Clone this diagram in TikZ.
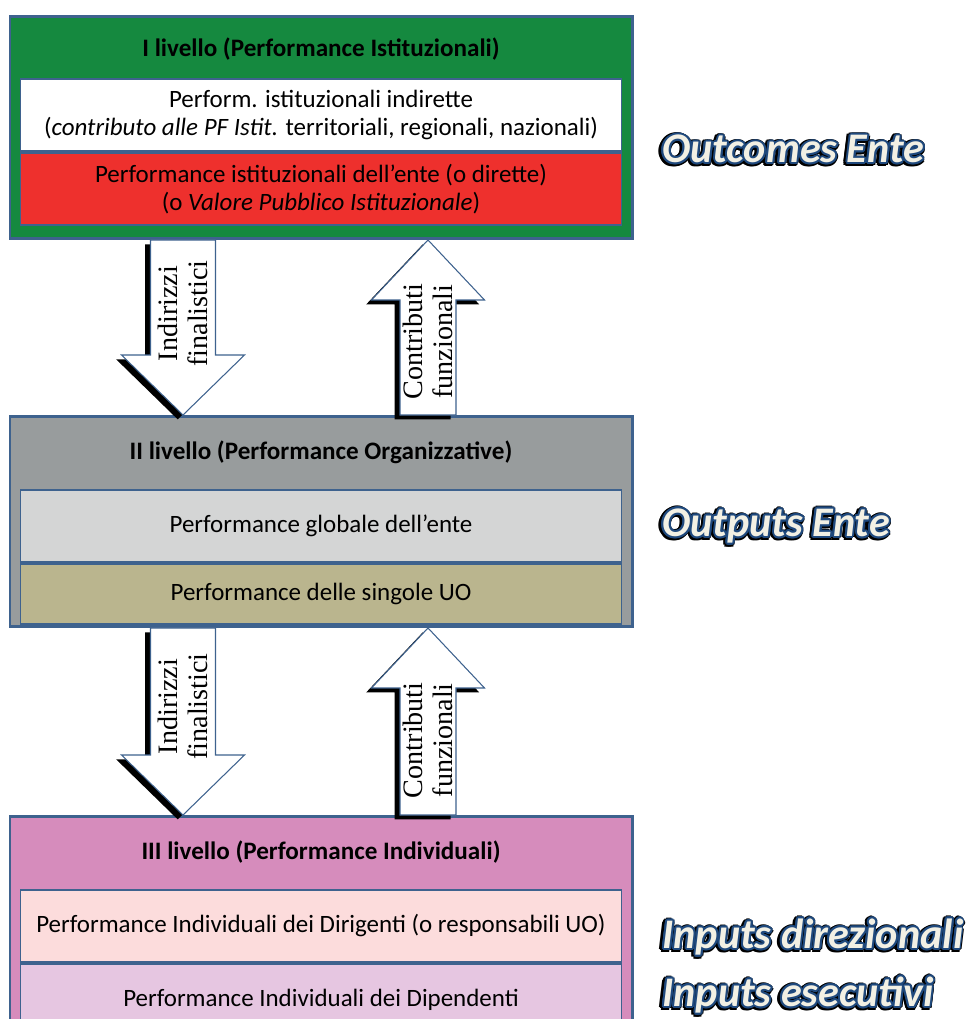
\documentclass[tikz,border=0pt]{standalone}
\usepackage{fontspec}
\setmainfont{Carlito}
\newfontfamily\arrowfont{Liberation Serif}
\usepackage[copies]{contour}
\contournumber{12}
\usetikzlibrary{calc,positioning}

\definecolor{lvgreen}{RGB}{21,137,63}
\definecolor{bordblue}{RGB}{62,98,142}
\definecolor{ptred}{RGB}{238,48,45}
\definecolor{lvgrey}{RGB}{152,156,157}
\definecolor{ltgrey}{RGB}{212,213,213}
\definecolor{uotan}{RGB}{186,181,142}
\definecolor{lvpink}{RGB}{214,140,188}
\definecolor{ltpink}{RGB}{252,220,220}
\definecolor{lavender}{RGB}{230,198,225}
\definecolor{sideblue}{RGB}{31,73,125}
\definecolor{cream}{RGB}{242,240,228}

\tikzset{
  level/.style={draw=bordblue, line width=1.7pt, minimum width=12.44cm, anchor=north, inner sep=0pt},
  lvtitle/.style={font=\bfseries\fontsize{14.3}{16}\selectfont, inner sep=0pt},
  inbox/.style={draw=bordblue, line width=1.1pt, minimum width=12.02cm, minimum height=1.44cm,
    anchor=north, align=center, inner sep=0pt, font=\fontsize{14.2}{16}\selectfont},
  arrbody/.style={draw=bordblue, line width=0.6pt, fill=white},
  arrtext/.style={rotate=90, align=center, inner sep=0pt, font=\arrowfont\fontsize{16}{17}\selectfont},
  side/.style={anchor=west, inner sep=0pt, font=\bfseries\itshape\fontsize{24}{26}\selectfont},
}

% outlined side labels
\newcommand{\sideshadow}[1]{\contourlength{1.9pt}\contour{black}{#1}}
\newcommand{\sideface}[1]{\contourlength{1.1pt}\contour{sideblue}{#1}}

% block arrow: from, to, shaft half width, head half width
\newcommand{\blockarr}[4]{%
  \fill[black, transform canvas={xshift=-3pt,yshift=-2.5pt}]
    let \p1=(#1), \p2=(#2), \n1={2*(\y2>\y1)-1} in
    ({\x1-#3},\y1) -- ({\x1-#3},{\y2-\n1*1.2cm}) -- ({\x1-#4},{\y2-\n1*1.2cm}) -- (\x1,\y2)
    -- ({\x1+#4},{\y2-\n1*1.2cm}) -- ({\x1+#3},{\y2-\n1*1.2cm}) -- ({\x1+#3},\y1) -- cycle;
  \draw[arrbody]
    let \p1=(#1), \p2=(#2), \n1={2*(\y2>\y1)-1} in
    ({\x1-#3},\y1) -- ({\x1-#3},{\y2-\n1*1.2cm}) -- ({\x1-#4},{\y2-\n1*1.2cm}) -- (\x1,\y2)
    -- ({\x1+#4},{\y2-\n1*1.2cm}) -- ({\x1+#3},{\y2-\n1*1.2cm}) -- ({\x1+#3},\y1) -- cycle;
}

\begin{document}
\begin{tikzpicture}
    \useasboundingbox (0,0) rectangle (19.42,-20.38);
    \clip (0,0) rectangle (19.42,-20.38);

    % Level I
    \node [level, fill=lvgreen, minimum height=4.44cm] (lev1) at (6.42,-0.3) {};
    \node [lvtitle, below=0.45cm of lev1.north] (tit1) {I livello (Performance Istituzionali)};
    \node [inbox, fill=white, below=1.26cm of lev1.north] (indir)
        {Perform. istituzionali indirette\\(\textit{contributo alle PF Istit.} territoriali, regionali, nazionali)};
    \node [inbox, fill=ptred, below=0pt of indir] (dir)
        {Performance istituzionali dell’ente (o dirette)\\(o \textit{Valore Pubblico Istituzionale})};

    % Level II
    \node [level, fill=lvgrey, minimum height=4.2cm] (lev2) at (6.42,-8.3) {};
    \node [lvtitle, below=0.5cm of lev2.north] (tit2) {II livello (Performance Organizzative)};
    \node [inbox, fill=ltgrey, below=1.48cm of lev2.north] (glob) {Performance globale dell’ente};
    \node [inbox, fill=uotan, minimum height=1.2cm, below=0pt of glob] (uo) {Performance delle singole UO};

    % Level III
    \node [level, fill=lvpink, minimum height=4.6cm] (lev3) at (6.42,-16.3) {};
    \node [lvtitle, below=0.5cm of lev3.north] (tit3) {III livello (Performance Individuali)};
    \node [inbox, fill=ltpink, below=1.48cm of lev3.north] (dirig)
        {Performance Individuali dei Dirigenti (o responsabili UO)};
    \node [inbox, fill=lavender, below=0pt of dirig] (dipen) {Performance Individuali dei Dipendenti};

    % Arrow axes
    \coordinate (xd) at (3.66,0);
    \coordinate (xu) at (8.56,0);
    \coordinate (d1a) at (xd |- lev1.south);
    \coordinate (d1b) at (xd |- lev2.north);
    \coordinate (u1a) at (xu |- lev2.north);
    \coordinate (u1b) at (xu |- lev1.south);
    \coordinate (d2a) at (xd |- lev2.south);
    \coordinate (d2b) at (xd |- lev3.north);
    \coordinate (u2a) at (xu |- lev3.north);
    \coordinate (u2b) at (xu |- lev2.south);

    % Block arrows
    \blockarr{d1a}{d1b}{0.65cm}{1.23cm}
    \blockarr{u1a}{u1b}{0.56cm}{1.13cm}
    \blockarr{d2a}{d2b}{0.65cm}{1.23cm}
    \blockarr{u2a}{u2b}{0.56cm}{1.13cm}
    \node [arrtext] (ind1) at ($(d1a)!0.42!(d1b)$) {Indirizzi\\finalistici};
    \node [arrtext] (con1) at ($(u1a)!0.42!(u1b)$) {Contributi\\funzionali};
    \node [arrtext] (ind2) at ($(d2a)!0.42!(d2b)$) {Indirizzi\\finalistici};
    \node [arrtext] (con2) at ($(u2a)!0.40!(u2b)$) {Contributi\\funzionali};

    % Side labels
    \foreach \lab/\y [count=\i] in {Outcomes Ente/-3.0, Outputs Ente/-10.54,
        Inputs direzionali/-18.76, Inputs esecutivi/-19.92} {
        \node [side, text=black, xshift=-0.6pt, yshift=-0.8pt] (sidesh\i) at (13.24,\y) {\sideshadow{\lab}};
        \node [side, text=cream] (side\i) at (13.24,\y) {\sideface{\lab}};
    }
\end{tikzpicture}
\end{document}
